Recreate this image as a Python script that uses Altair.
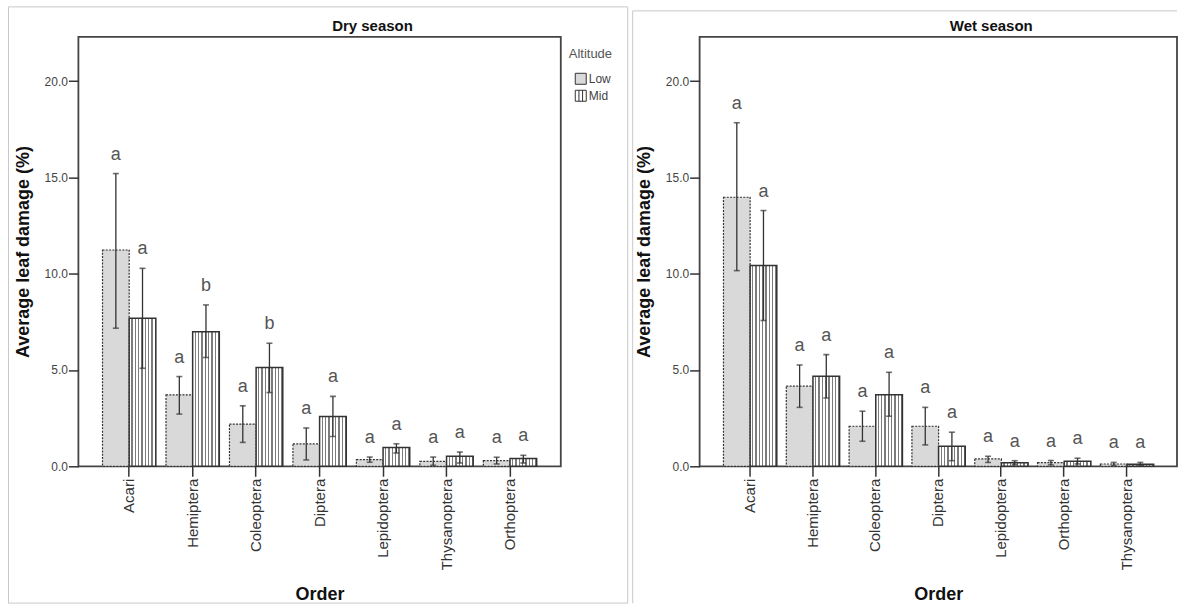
import altair as alt
import pandas as pd

# ---------------- data ----------------
altitudes = ["Low", "Mid"]

orders_dry = ["Acari", "Hemiptera", "Coleoptera", "Diptera", "Lepidoptera", "Thysanoptera", "Orthoptera"]
dry_low_mean = [11.23, 3.71, 2.19, 1.16, 0.35, 0.26, 0.29]
dry_low_hi = [15.20, 4.66, 3.14, 1.99, 0.48, 0.48, 0.47]
dry_low_lo = [7.17, 2.71, 1.24, 0.33, 0.21, 0.05, 0.12]
dry_low_letter = ["a", "a", "a", "a", "a", "a", "a"]
dry_mid_mean = [7.69, 6.99, 5.13, 2.59, 0.98, 0.52, 0.40]
dry_mid_hi = [10.28, 8.38, 6.39, 3.63, 1.17, 0.74, 0.57]
dry_mid_lo = [5.09, 5.65, 3.83, 1.55, 0.69, 0.17, 0.17]
dry_mid_letter = ["a", "b", "b", "a", "a", "a", "a"]

orders_wet = ["Acari", "Hemiptera", "Coleoptera", "Diptera", "Lepidoptera", "Orthoptera", "Thysanoptera"]
wet_low_mean = [13.97, 4.16, 2.08, 2.08, 0.38, 0.19, 0.12]
wet_low_hi = [17.84, 5.26, 2.86, 3.06, 0.52, 0.30, 0.20]
wet_low_lo = [10.16, 3.06, 1.30, 1.11, 0.20, 0.07, 0.04]
wet_low_letter = ["a", "a", "a", "a", "a", "a", "a"]
wet_mid_mean = [10.42, 4.68, 3.72, 1.04, 0.19, 0.26, 0.10]
wet_mid_hi = [13.28, 5.80, 4.88, 1.77, 0.29, 0.42, 0.20]
wet_mid_lo = [7.57, 3.55, 2.60, 0.29, 0.09, 0.12, 0.04]
wet_mid_letter = ["a", "a", "a", "a", "a", "a", "a"]

y_ticks = [0, 5, 10, 15, 20]
y_max = 22.3


def make_df(orders, lm, lh, ll, lt, mm, mh, ml, mt):
    rows = []
    for i, o in enumerate(orders):
        rows.append(dict(order=o, alt="Low", mean=lm[i], hi=lh[i], lo=ll[i], letter=lt[i]))
        rows.append(dict(order=o, alt="Mid", mean=mm[i], hi=mh[i], lo=ml[i], letter=mt[i]))
    return pd.DataFrame(rows)


df_dry = make_df(orders_dry, dry_low_mean, dry_low_hi, dry_low_lo, dry_low_letter,
                 dry_mid_mean, dry_mid_hi, dry_mid_lo, dry_mid_letter)
df_wet = make_df(orders_wet, wet_low_mean, wet_low_hi, wet_low_lo, wet_low_letter,
                 wet_mid_mean, wet_mid_hi, wet_mid_lo, wet_mid_letter)

# ---------------- styles ----------------
FONT = "Liberation Sans"
DARK = "#333333"

stops = []
n_str = 8
for i in range(n_str):
    a = i / n_str
    b = (i + 0.6) / n_str
    c = (i + 1) / n_str
    stops += [alt.GradientStop(offset=a, color="#ffffff"),
              alt.GradientStop(offset=b, color="#ffffff"),
              alt.GradientStop(offset=b, color="#7c7c7c"),
              alt.GradientStop(offset=c, color="#7c7c7c")]
stripe_fill = alt.LinearGradient(gradient="linear", stops=stops, x1=0, x2=1, y1=0, y2=0)

y_axis = alt.Axis(title="Average leaf damage (%)", values=y_ticks, format=".1f", grid=False,
                  domain=False, tickSize=10, tickWidth=1.5, tickColor=DARK, labelPadding=1,
                  labelFontSize=12, labelColor="#444444", titleFontSize=18, titleFontWeight="bold",
                  titleColor="#111111", titlePadding=12, labelFont=FONT, titleFont=FONT)
y_scale = alt.Scale(domain=[0, y_max], nice=False, zero=True)


def panel(df, orders, title, width, legend, frame_kind):
    x = alt.X("order:N", sort=orders,
              scale=alt.Scale(paddingInner=0.16, paddingOuter=0.38),
              axis=alt.Axis(title="Order", labelAngle=-90, labelFontSize=15, labelColor="#333333",
                            tickSize=10, tickWidth=1.5, tickColor=DARK, labelPadding=2,
                            domain=False, titleFontSize=18, titleFontWeight="bold",
                            titleColor="#111111", titlePadding=16, labelFont=FONT, titleFont=FONT))
    xo = alt.XOffset("alt:N", sort=altitudes,
                     scale=alt.Scale(domain=altitudes, paddingInner=0, paddingOuter=0))
    base = alt.Chart(df).encode(x=x, xOffset=xo)

    color = alt.Color("alt:N", scale=alt.Scale(domain=altitudes, range=["#d9d9d9", "#ffffff"]),
                      legend=legend)
    low = base.transform_filter(alt.datum.alt == "Low").mark_bar(
        stroke=DARK, strokeWidth=1.2, strokeDash=[2, 1.3]
    ).encode(y=alt.Y("mean:Q", scale=y_scale, axis=y_axis), color=color)
    mid = base.transform_filter(alt.datum.alt == "Mid").mark_bar(
        fill=stripe_fill, stroke=DARK, strokeWidth=1.5
    ).encode(y=alt.Y("mean:Q", scale=y_scale, axis=y_axis))
    rule = base.mark_rule(color=DARK, strokeWidth=1.3).encode(
        y=alt.Y("lo:Q", scale=y_scale, axis=y_axis), y2="hi:Q")
    cap_hi = base.mark_tick(orient="horizontal", size=6, thickness=1.6, color=DARK).encode(
        y=alt.Y("hi:Q", scale=y_scale, axis=y_axis))
    cap_lo = base.mark_tick(orient="horizontal", size=6, thickness=1.6, color=DARK).encode(
        y=alt.Y("lo:Q", scale=y_scale, axis=y_axis))
    letters = base.mark_text(dy=-19, fontSize=18, color="#555555", font=FONT,
                             baseline="middle").encode(
        y=alt.Y("hi:Q", scale=y_scale, axis=y_axis), text="letter:N")

    ttl = alt.Chart(pd.DataFrame({"t": [title]})).mark_text(
        fontSize=15, fontWeight="bold", font=FONT, color="#111111", align="center",
        baseline="middle").encode(text="t:N", x=alt.value(width / 2 + 53), y=alt.value(-11))

    one = pd.DataFrame({"k": [0]})
    if frame_kind == "box":
        frame = alt.Chart(one).mark_rect(fillOpacity=0, stroke="#c8c8c8", strokeWidth=1).encode(
            x=alt.value(-70), x2=alt.value(550), y=alt.value(-30), y2=alt.value(567))
        layers = [frame]
    else:
        top = alt.Chart(one).mark_rule(color="#c8c8c8", strokeWidth=1).encode(
            x=alt.value(-67), x2=alt.value(478), y=alt.value(-26))
        left = alt.Chart(one).mark_rule(color="#c8c8c8", strokeWidth=1).encode(
            x=alt.value(-67), y=alt.value(-26), y2=alt.value(567))
        layers = [top, left]

    return alt.layer(*layers, low, mid, rule, cap_hi, cap_lo, letters, ttl).properties(
        width=width, height=430)


legend = alt.Legend(title="Altitude", orient="none", legendX=491, legendY=11, padding=0,
                    titleFontSize=13, titleFontWeight="normal", titleColor="#555555",
                    titleFont=FONT, labelFont=FONT, labelFontSize=12, labelColor="#444444",
                    symbolType=alt.ExprRef(
                        "datum.value === 'Mid' ? 'M-1,-1H1V1H-1Z M-0.33,-1V1 M0.33,-1V1' : 'square'"),
                    symbolSize=121, symbolStrokeColor=DARK,
                    symbolStrokeWidth=1, symbolOffset=6, labelOffset=2, rowPadding=1,
                    titlePadding=12)

left_panel = panel(df_dry, orders_dry, "Dry season", 483, legend, "box")
right_panel = panel(df_wet, orders_wet, "Wet season", 478, None, "open")

chart = alt.hconcat(left_panel, right_panel, spacing=139, bounds="flush").resolve_legend(
    color="independent").resolve_scale(color="independent").properties(
    padding={"left": 6.5, "top": 4.5, "right": 0, "bottom": 0},
    background="white"
).configure_view(stroke="#444444", strokeWidth=1.8)

chart.save("out.html", embed_options={"renderer": "svg", "actions": False})
